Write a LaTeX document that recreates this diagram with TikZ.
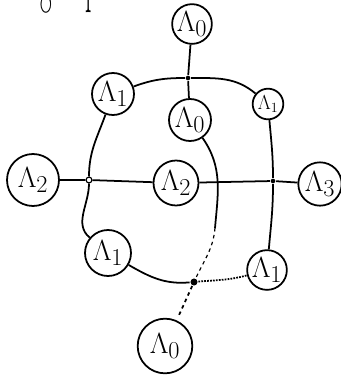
\documentclass[tikz,border=0pt]{standalone}
\usepackage{amsmath}
\usepackage{tikz}

\begin{document}
\begin{tikzpicture}[x=0.03cm, y=0.03cm, line width=1.5pt,
  rep/.style={draw, circle, inner sep=0pt, font=\fontsize{24.88}{26}\selectfont},
  jonction/.style={circle, fill, inner sep=0pt, minimum size=4pt},
  ouverte/.style={circle, draw, fill=white, line width=1pt, inner sep=0pt, minimum size=5pt}]
  \useasboundingbox (0,0) rectangle (341,-378);

  % Titre (coupe en haut)
  \begin{scope}
    \clip (0,0) rectangle (341,-378);
    \node[anchor=base west, inner sep=0pt, font=\fontsize{36}{36}\selectfont] (titre) at (40,1) {\scalebox{0.6}[1.6]{group}};
  \end{scope}

  % Representations
  \node[rep, minimum size=1.14cm] (l0h) at (192,-24) {$\Lambda_0$};
  \node[rep, minimum size=1.26cm] (l1hg) at (113,-94) {$\Lambda_1$};
  \node[rep, minimum size=0.92cm, font=\fontsize{17.28}{19}\selectfont] (l1hd) at (268,-104) {$\Lambda_1$};
  \node[rep, minimum size=1.26cm] (l0m) at (190,-120) {$\Lambda_0$};
  \node[rep, minimum size=1.56cm] (l2g) at (33,-180) {$\Lambda_2$};
  \node[rep, minimum size=1.35cm] (l2c) at (176,-183) {$\Lambda_2$};
  \node[rep, minimum size=1.30cm] (l3) at (320,-184) {$\Lambda_3$};
  \node[rep, minimum size=1.38cm] (l1bg) at (108,-253) {$\Lambda_1$};
  \node[rep, minimum size=1.14cm] (l1bd) at (267,-270) {$\Lambda_1$};
  \node[rep, minimum size=1.64cm] (l0b) at (165,-346) {$\Lambda_0$};

  % Jonctions
  \node[jonction] (jh) at (188,-78) {};
  \node[ouverte] (jg) at (89,-180) {};
  \node[jonction] (jd) at (273,-181) {};
  \node[jonction, minimum size=6pt] (jb) at (194,-282) {};
  \coordinate (cm) at (215,-228);

  % Liens
  \draw (l0h) -- (jh) -- (l0m);
  \draw (l1hg) to[out=20, in=180] (jh);
  \draw (jh) to[out=0, in=140] (l1hd);
  \draw (l2g) -- (jg) -- (l2c);
  \draw (l2c) -- (jd) -- (l3);
  \draw (l1hg) to[out=-110, in=90] (jg);
  \draw (jg) to[out=-90, in=140] (l1bg);
  \draw (l1hd) to[out=-85, in=90] (jd);
  \draw (jd) to[out=-90, in=85] (l1bd);
  \draw (l0m) to[out=-55, in=85] (cm);
  \draw[dashed, line width=1pt] (cm) to[out=-95, in=65] (jb);
  \draw (l1bg) to[out=-30, in=185] (jb);
  \draw[densely dotted] (jb) to[out=5, in=195] (l1bd);
  \draw[dashed, shorten >=5pt] (jb) -- (l0b);
\end{tikzpicture}
\end{document}
